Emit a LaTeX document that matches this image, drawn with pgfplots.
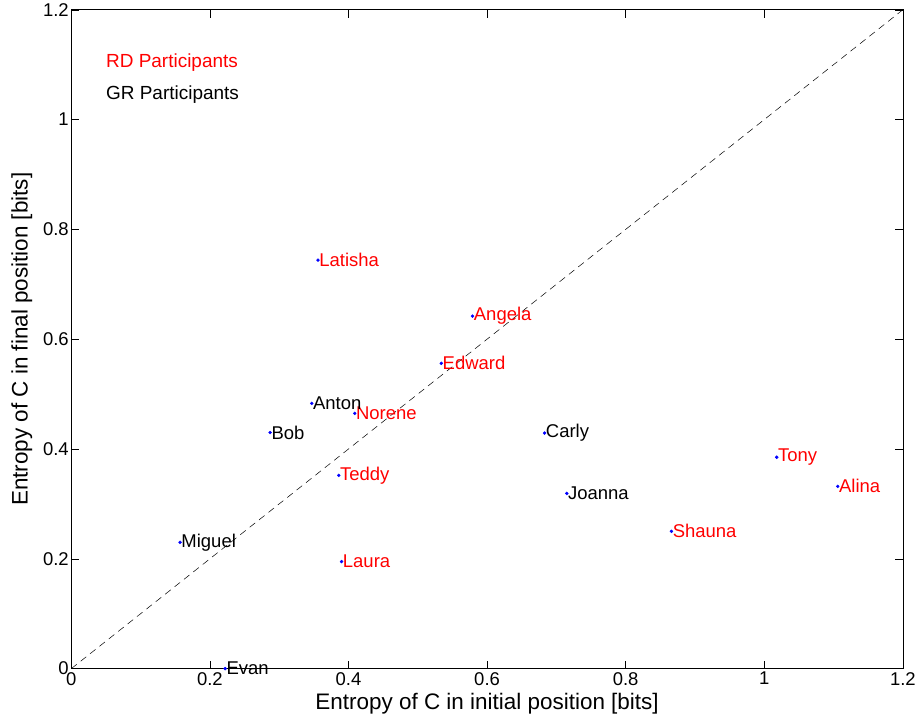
\documentclass[border=0pt]{standalone}
\usepackage{pgfplots}
\pgfplotsset{compat=1.18}
\usepackage{fontspec}
\setmainfont{Liberation Sans}
\begin{document}
\begin{tikzpicture}
\begin{axis}[
  scale only axis,
  width=833pt, height=660pt,
  xmin=0, xmax=1.2, ymin=0, ymax=1.2,
  xtick={0,0.2,0.4,0.6,0.8,1,1.2},
  ytick={0,0.2,0.4,0.6,0.8,1,1.2},
  tick align=inside,
  major tick length=8pt,
  tick style={black, line width=0.5pt},
  /pgf/number format/assume math mode=true,
  ticklabel style={font=\fontsize{18.5}{22}\selectfont},
  xticklabel style={yshift=0pt},
  yticklabel style={xshift=1pt},
  label style={font=\fontsize{22.5}{26}\selectfont},
  xlabel={Entropy of C in initial position [bits]},
  ylabel={Entropy of C in final position [bits]},
  xlabel style={yshift=-1pt},
  ylabel style={yshift=4pt},
  clip=false,
  axis line style={black, line width=0.7pt},
  nodes near coords,
  point meta=explicit symbolic,
  every node near coord/.style={anchor=west, inner sep=0pt, xshift=1.2pt, font=\fontsize{18.5}{22}\selectfont},
]
\addplot[black, line width=0.5pt, dash pattern=on 7pt off 5pt, no marks, nodes near coords={}, forget plot] coordinates {(0,0) (1.2,1.2)};
\addplot[only marks, mark=*, mark size=1.5pt, blue,
  every node near coord/.append style={text=red}] table[meta=label] {
x y label
0.356 0.744 Latisha
0.579 0.642 Angela
0.534 0.556 Edward
0.409 0.465 Norene
0.386 0.352 Teddy
1.018 0.385 Tony
1.106 0.332 Alina
0.866 0.250 Shauna
0.390 0.195 Laura
};
\addplot[only marks, mark=*, mark size=1.5pt, blue,
  every node near coord/.append style={text=black}] table[meta=label] {
x y label
0.347 0.483 Anton
0.287 0.430 Bob
0.683 0.429 Carly
0.715 0.319 Joanna
0.157 0.230 Miguel
0.222 0.000 Evan
};
\node[anchor=west, text=red, font=\fontsize{19}{22}\selectfont, inner sep=0pt] at (axis cs:0.050,1.103) {RD Participants};
\node[anchor=west, text=black, font=\fontsize{19}{22}\selectfont, inner sep=0pt] at (axis cs:0.050,1.045) {GR Participants};
\end{axis}
\path (current bounding box.south west) ++(-8pt,-6pt) coordinate (pad);
\path (pad) -- (pad);
\end{tikzpicture}
\end{document}
